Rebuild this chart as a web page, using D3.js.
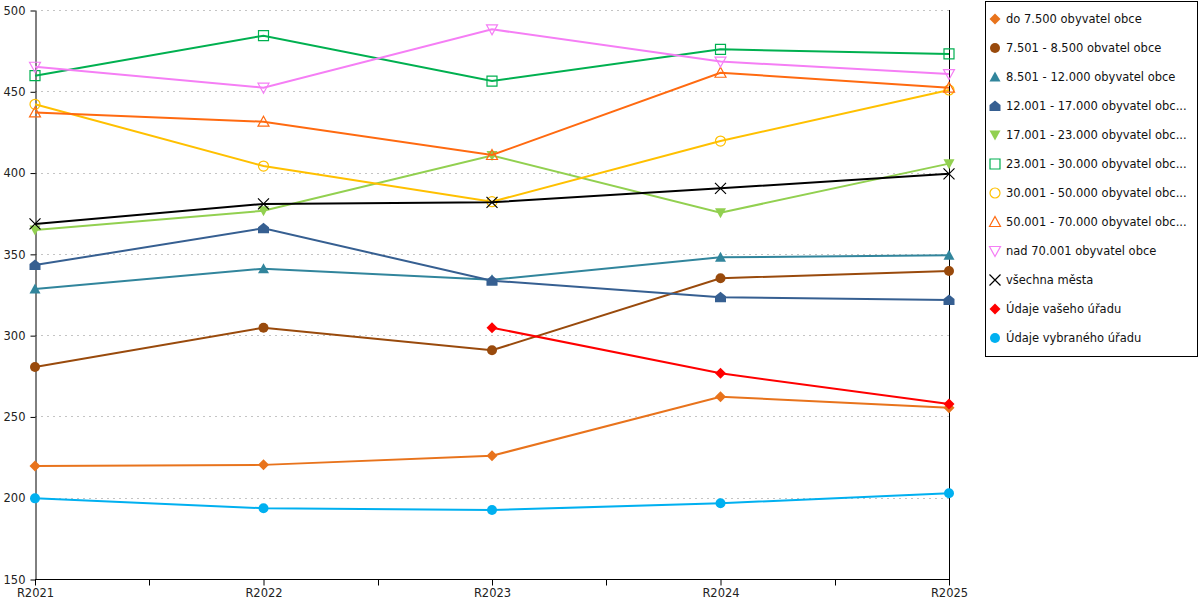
<!DOCTYPE html>
<html>
<head>
<meta charset="utf-8">
<script src="https://cdn.jsdelivr.net/npm/d3@7"></script>
<style>
  body { margin: 0; background: #fff; }
  svg { display: block; font-family: "DejaVu Sans", Verdana, sans-serif; }
</style>
</head>
<body>
<svg id="graf" width="1200" height="600"></svg>
<script>
// roky na ose x
let roky = ["R2021", "R2022", "R2023", "R2024", "R2025"];
let yticks = [150, 200, 250, 300, 350, 400, 450, 500];

let labels = ["do 7.500 obyvatel obce",
              "7.501 - 8.500 obvatel obce",
              "8.501 - 12.000 obyvatel obce",
              "12.001 - 17.000 obyvatel obc...",
              "17.001 - 23.000 obyvatel obc...",
              "23.001 - 30.000 obyvatel obc...",
              "30.001 - 50.000 obyvatel obc...",
              "50.001 - 70.000 obyvatel obc...",
              "nad 70.001 obyvatel obce",
              "všechna města",
              "Údaje vašeho úřadu",
              "Údaje vybraného úřadu"];

let do7500   = [219.5, 220.2, 225.8, 262.1, 255.3];
let do8500   = [280.4, 304.6, 290.7, 335.0, 339.5];
let do12000  = [328.4, 340.9, 334.0, 347.9, 349.1];
let do17000  = [343.1, 365.7, 333.5, 323.3, 321.6];
let do23000  = [364.7, 376.5, 410.5, 375.3, 405.5];
let do30000  = [459.6, 484.2, 456.3, 475.8, 473.0];
let do50000  = [442.0, 404.0, 382.1, 419.4, 450.8];
let do70000  = [437.0, 431.3, 410.8, 461.4, 452.2];
let nad70001 = [465.1, 452.2, 488.1, 468.3, 460.6];
let vsechna  = [368.4, 380.7, 381.7, 390.3, 399.2];
let vasUrad  = [null, null, 304.6, 276.5, 257.6];
let vybUrad  = [199.6, 193.5, 192.4, 196.6, 202.7];

let hodnoty = [do7500, do8500, do12000, do17000, do23000, do30000,
               do50000, do70000, nad70001, vsechna, vasUrad, vybUrad];

let barvy = ["#E8731C", "#994A0C", "#31859C", "#365F91", "#92D050", "#00B050",
             "#FFC000", "#FF6A10", "#F57EF5", "#000000", "#FF0000", "#00B0F0"];
let tvary = ["diamond", "circle", "triangle", "house", "triangleDown", "square",
             "circle", "triangle", "triangleDown", "cross", "diamond", "circle"];
let plne  = [true, true, true, true, true, false, false, false, false, false, true, true];

// tvary znacek
function znacka(tvar) {
    switch (tvar) {
        case "diamond": return "M0,-5.5L5.5,0L0,5.5L-5.5,0Z";
        case "circle": return d3.arc()({innerRadius: 0, outerRadius: 5, startAngle: 0, endAngle: 2 * Math.PI});
        case "triangle": return "M0,-5.5L5.5,4.5L-5.5,4.5Z";
        case "triangleDown": return "M0,5.5L5.5,-4.5L-5.5,-4.5Z";
        case "house": return "M0,-5.5L5.5,-1L5.5,5L-5.5,5L-5.5,-1Z";
        case "square": return "M-5,-5L5,-5L5,5L-5,5Z";
        case "cross": return "M-5.5,-5.5L5.5,5.5M5.5,-5.5L-5.5,5.5";
    }
}

let svg = d3.select("#graf");
let mLeft = 35, mRight = 949, mTop = 10, mBottom = 579;

let xscale = d3.scalePoint().domain(roky).range([mLeft, mRight]);
let yscale = d3.scaleLinear().domain([150, 500]).range([mBottom, mTop]);

// mrizka
svg.append("g")
    .selectAll("line")
    .data(yticks.filter(d => d != 150))
    .enter()
    .append("line")
    .attr("x1", mLeft)
    .attr("x2", mRight)
    .attr("y1", d => Math.round(yscale(d)) + 0.5)
    .attr("y2", d => Math.round(yscale(d)) + 0.5)
    .style("stroke", "#c4c4c4")
    .style("stroke-width", 1)
    .style("stroke-dasharray", "2 4");

// pravy okraj
svg.append("line")
    .attr("x1", mRight + 0.5).attr("x2", mRight + 0.5)
    .attr("y1", mTop).attr("y2", mBottom)
    .style("stroke", "black");

// osa y
let ax = svg.append("g")
    .attr("transform", "translate(" + (mLeft + 0.5) + ",0.5)")
    .call(d3.axisLeft(yscale).tickValues(yticks).tickSize(5).tickPadding(5).tickSizeOuter(0));
ax.selectAll("text").style("font-size", "11.5px").style("fill", "#222").style("font-family", "DejaVu Sans");

// osa x
let bx = svg.append("g")
    .attr("transform", "translate(0," + (mBottom + 0.5) + ")")
    .call(d3.axisBottom(xscale).tickSize(6).tickPadding(3).tickSizeOuter(0));
bx.select(".domain").attr("d", "M" + mLeft + ",0H" + (mRight + 1));
bx.selectAll("text").style("font-size", "11.5px").style("fill", "#222").style("font-family", "DejaVu Sans");

// vedlejsi tiky mezi roky
let stredy = roky.slice(1).map((r, i) => (xscale(roky[i]) + xscale(r)) / 2);
bx.selectAll(".minor")
    .data(stredy)
    .enter()
    .append("line")
    .attr("class", "minor")
    .attr("x1", d => Math.round(d) + 0.5)
    .attr("x2", d => Math.round(d) + 0.5)
    .attr("y1", 0)
    .attr("y2", 6)
    .style("stroke", "black");

// rady
let linka = d3.line()
    .defined(d => d != null)
    .x((d, i) => xscale(roky[i]))
    .y(d => yscale(d));

hodnoty.forEach(function(serie, k) {
    let g = svg.append("g").attr("class", "serie");

    g.append("path")
        .datum(serie)
        .attr("d", linka)
        .style("fill", "none")
        .style("stroke", barvy[k])
        .style("stroke-width", 2);

    g.selectAll(".bod")
        .data(serie.map((v, i) => ({rok: roky[i], v: v})).filter(p => p.v != null))
        .enter()
        .append("path")
        .attr("class", "bod")
        .attr("transform", p => "translate(" + xscale(p.rok) + "," + yscale(p.v) + ")")
        .attr("d", znacka(tvary[k]))
        .style("fill", plne[k] ? barvy[k] : "none")
        .style("stroke", barvy[k])
        .style("stroke-width", plne[k] ? 0 : 1.2);
});

// legenda
let leg = svg.append("g");
leg.append("rect")
    .attr("x", 985.5).attr("y", 1.5)
    .attr("width", 212).attr("height", 355)
    .style("fill", "white")
    .style("stroke", "black");

leg.selectAll(".polozka")
    .data(labels)
    .enter()
    .append("g")
    .attr("class", "polozka")
    .attr("transform", (d, i) => "translate(995," + (19 + i * 29) + ")")
    .each(function(d, i) {
        d3.select(this).append("path")
            .attr("d", znacka(tvary[i]))
            .style("fill", plne[i] ? barvy[i] : "none")
            .style("stroke", barvy[i])
            .style("stroke-width", plne[i] ? 0 : 1.2);
        d3.select(this).append("text")
            .attr("x", 11)
            .attr("dy", "0.35em")
            .text(d)
            .style("font-size", "11.5px")
            .style("fill", "#111");
    });
</script>
</body>
</html>
